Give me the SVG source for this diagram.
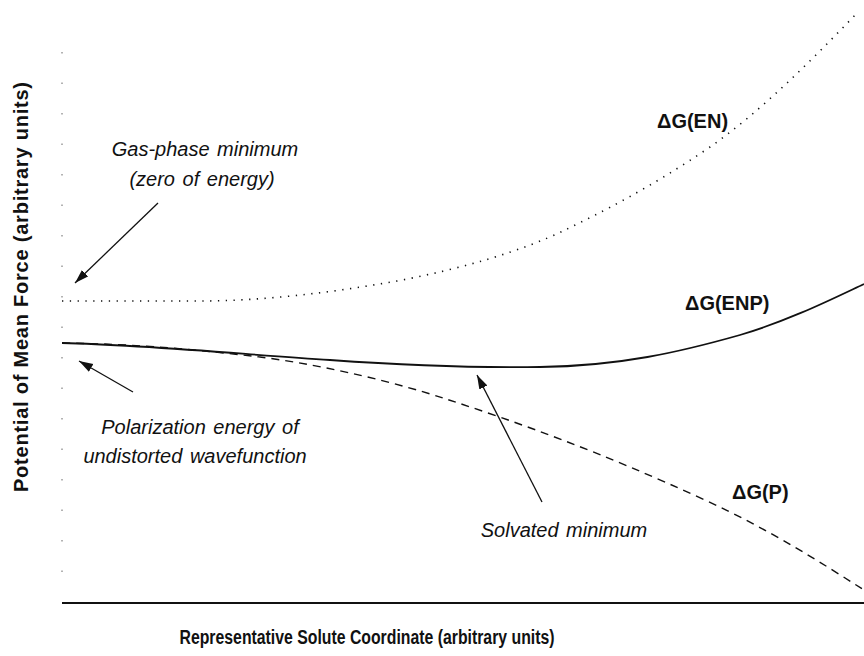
<svg xmlns="http://www.w3.org/2000/svg" width="864" height="656" viewBox="0 0 864 656">
<style>
.it{font-family:"Liberation Sans",Arial,sans-serif;font-style:italic;font-size:20px;fill:#111;text-anchor:middle;word-spacing:2px}
.bd{font-family:"Liberation Sans",Arial,sans-serif;font-weight:bold;font-size:20px;fill:#111}
.ax{font-family:"Liberation Sans",Arial,sans-serif;font-weight:bold;font-size:20px;fill:#111}
.arr{stroke:#111;stroke-width:1.3;fill:none;marker-end:url(#ah)}
.curve{fill:none;stroke:#111}
</style>
<defs>
<marker id="ah" markerUnits="userSpaceOnUse" markerWidth="16" markerHeight="10" refX="14" refY="4.5" orient="auto">
<path d="M0,0 L14,4.5 L0,9 Z" fill="#111"/>
</marker>
</defs>
<rect width="864" height="656" fill="#fff"/>
<g id="axes">
<line x1="62" y1="52" x2="62" y2="600" stroke="#666" stroke-width="1" stroke-dasharray="1.5 29"/>
<line x1="62" y1="603" x2="864" y2="603" stroke="#111" stroke-width="2"/>
<text class="ax" x="367" y="644" text-anchor="middle" textLength="375" lengthAdjust="spacingAndGlyphs">Representative Solute Coordinate (arbitrary units)</text>
<text class="ax" transform="translate(28,287) rotate(-90)" text-anchor="middle" textLength="410" lengthAdjust="spacing">Potential of Mean Force (arbitrary units)</text>
</g>
<g id="curve-EN">
<path class="curve" d="M62,301 L200,301 C260,301 330,293 397,281 C460,269 520,252 565,230 C600,213 650,188 710,147 C760,112 810,62 858,12" stroke-width="1.6" stroke-dasharray="1.3 6.5"/>
<text class="bd" x="657" y="128">ΔG(EN)</text>
</g>
<g id="curve-ENP">
<path class="curve" d="M62,343 C150,345 250,355 330,360 C400,365 470,368 540,367 C620,366 680,352 740,335 C790,320 830,300 864,284" stroke-width="1.8"/>
<text class="bd" x="685" y="310">ΔG(ENP)</text>
</g>
<g id="curve-P">
<path class="curve" d="M62,343 C140,344 200,350 260,357 C330,366 400,384 443,398 C520,423 600,452 705,500 C770,530 820,562 864,590" stroke-width="1.4" stroke-dasharray="8 6"/>
<text class="bd" x="732" y="499">ΔG(P)</text>
</g>
<g id="label-gas">
<text class="it" x="205" y="156">Gas-phase minimum</text>
<text class="it" x="202" y="186">(zero of energy)</text>
</g>
<g id="label-pol">
<text class="it" x="200" y="434">Polarization energy of</text>
<text class="it" x="195" y="463">undistorted wavefunction</text>
</g>
<g id="label-solv">
<text class="it" x="564" y="537">Solvated minimum</text>
</g>
<g id="connectors">
<line class="arr" x1="158" y1="203" x2="75" y2="283"/>
<line class="arr" x1="133" y1="392" x2="79" y2="361"/>
<line class="arr" x1="542" y1="502" x2="477" y2="375"/>
</g>
</svg>
